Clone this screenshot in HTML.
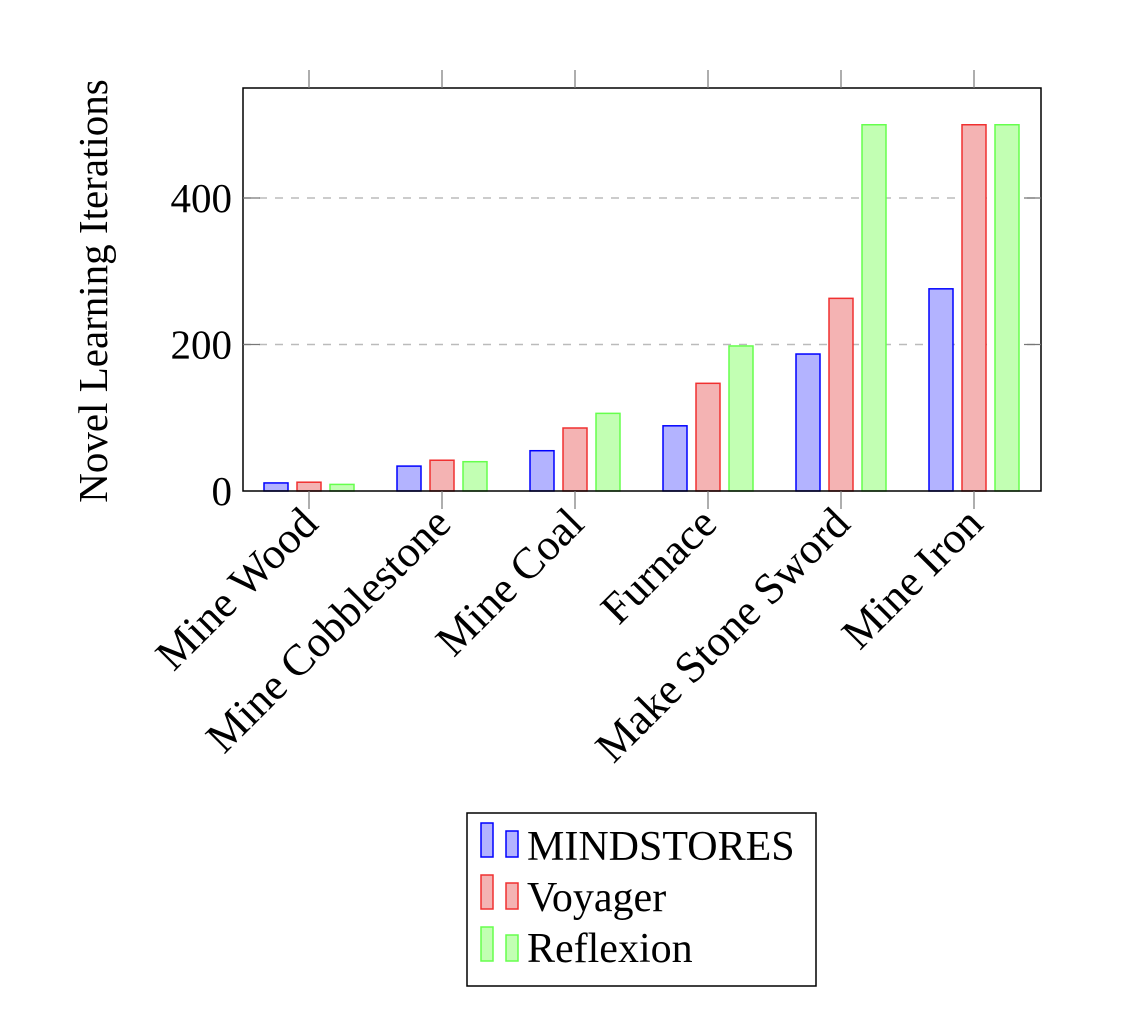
<!DOCTYPE html>
<html><head><meta charset="utf-8"><style>
html,body{margin:0;padding:0;background:#fff;}
svg{display:block;font-family:"Liberation Serif",serif;}
</style></head><body>
<svg id="chart" width="1142" height="1014" viewBox="0 0 1142 1014" xmlns="http://www.w3.org/2000/svg">
<g id="grid"></g>
<g id="bars"></g>
<rect x="243" y="88" width="798" height="403" fill="none" stroke="#000" stroke-width="1.5"/>
<g id="axes"></g>
<text transform="translate(107,291) rotate(-90)" text-anchor="middle" font-size="41">Novel Learning Iterations</text>
<g>
<rect x="467" y="813" width="349" height="173" fill="#fff" stroke="#000" stroke-width="1.5"/>
<g>
<rect x="481" y="823" width="12" height="34" fill="#b3b3ff" stroke="#0000ff" stroke-width="1.5"/>
<rect x="506" y="831" width="12" height="26" fill="#b3b3ff" stroke="#0000ff" stroke-width="1.5"/>
<text x="527" y="860" font-size="42">MINDSTORES</text></g>
<g>
<rect x="481" y="875" width="12" height="34" fill="#f4b3b3" stroke="#f03030" stroke-width="1.5"/>
<rect x="506" y="883" width="12" height="26" fill="#f4b3b3" stroke="#f03030" stroke-width="1.5"/>
<text x="527" y="911" font-size="42">Voyager</text></g>
<g>
<rect x="481" y="927" width="12" height="34" fill="#c2ffb3" stroke="#66ff4d" stroke-width="1.5"/>
<rect x="506" y="935" width="12" height="26" fill="#c2ffb3" stroke="#66ff4d" stroke-width="1.5"/>
<text x="527" y="962" font-size="42">Reflexion</text></g>
</g>
</svg>
<script>
const categories = ["Mine Wood","Mine Cobblestone","Mine Coal","Furnace","Make Stone Sword","Mine Iron"];
const mindstores = [11, 34, 55, 89, 187, 276];
const voyager = [12, 42, 86, 147, 263, 500];
const reflexion = [9, 40, 106, 198, 500, 500];
const yTicks = [0, 200, 400];
const seriesNames = ["mindstores","voyager","reflexion"];

const NS = "http://www.w3.org/2000/svg";
const x0 = 309, xStep = 133;
function xScale(i){ return x0 + i*xStep; }
function yScale(v){ return 491 - v*(146.5/200); }
const series = [mindstores, voyager, reflexion];
const fills = ["#b3b3ff","#f4b3b3","#c2ffb3"];
const strokes = ["#0000ff","#f03030","#66ff4d"];
const offs = [-33, 0, 33];
const barW = 24;
function mk(tag, attrs, parent){
  const e = document.createElementNS(NS, tag);
  for (const k in attrs) e.setAttribute(k, attrs[k]);
  parent.appendChild(e); return e;
}
const grid = document.getElementById('grid');
const axes = document.getElementById('axes');
const bars = document.getElementById('bars');
yTicks.forEach(t => {
  const y = yScale(t);
  if (t > 0) {
    const g = mk('line', {x1:243, x2:1041, y1:y, y2:y, stroke:'#bbb', 'stroke-width':1.5, 'stroke-dasharray':'8 8'}, grid);
    
    
    mk('line', {x1:243, x2:260, y1:y, y2:y, stroke:'#777', 'stroke-width':1.2}, axes);
    mk('line', {x1:1024, x2:1041, y1:y, y2:y, stroke:'#777', 'stroke-width':1.2}, axes);
  }
  const lb = mk('text', {x:232, y:y+14, 'text-anchor':'end', 'font-size':41}, axes);
  lb.textContent = t;
  
  
});
categories.forEach((c, i) => {
  const x = xScale(i);
  mk('line', {x1:x, x2:x, y1:70, y2:88, stroke:'#777', 'stroke-width':1.2}, axes);
  mk('line', {x1:x, x2:x, y1:491, y2:509, stroke:'#777', 'stroke-width':1.2}, axes);
  const lb = mk('text', {transform:`translate(${x+11},${526}) rotate(-45)`, 'text-anchor':'end', 'font-size':44}, axes);
  lb.textContent = c;
  
  
  series.forEach((s, k) => {
    const top = yScale(s[i]);
    const r = mk('rect', {x:x+offs[k]-barW/2, y:top, width:barW, height:491-top, fill:fills[k], stroke:strokes[k], 'stroke-width':1.5}, bars);
    
    
  });
});
</script>
</body></html>
